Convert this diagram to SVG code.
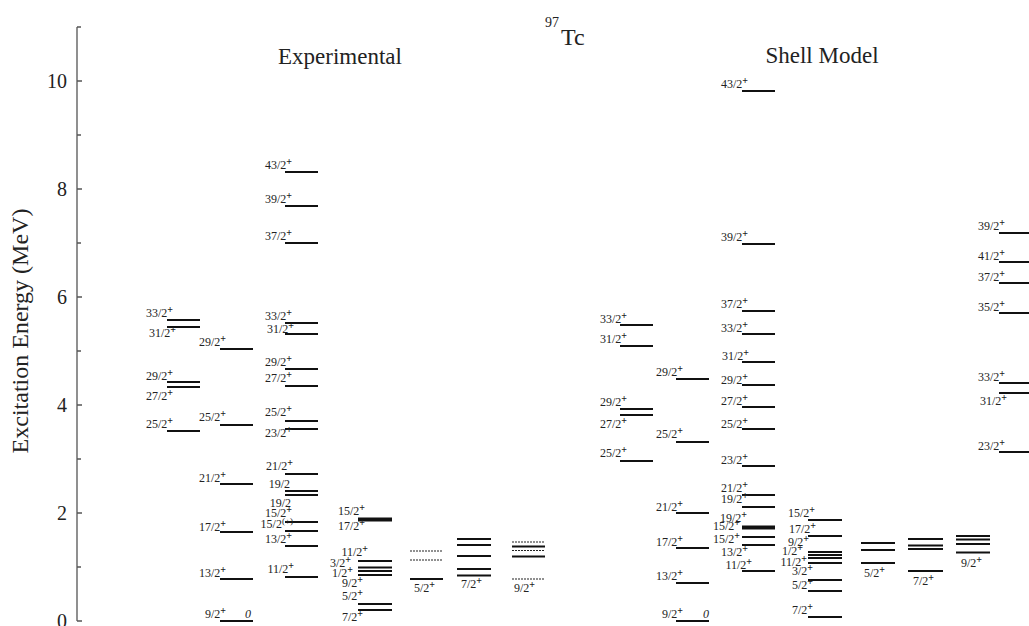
<svg xmlns="http://www.w3.org/2000/svg" width="1029" height="626" viewBox="0 0 1029 626">
<style>
.lv{stroke:#111;stroke-width:2;fill:none}
.dt{stroke:#222;stroke-width:1.2;stroke-dasharray:2 1;fill:none}
.ax{stroke:#555;stroke-width:1.3;fill:none}
text{font-family:"Liberation Serif","Times New Roman",serif;fill:#222}
.lb{font-size:12px;text-anchor:end}
.ls{font-size:12px;text-anchor:start}
.sp{font-size:10px;font-weight:bold}
.tk{font-size:20px;text-anchor:end}
.hd{font-size:23px;text-anchor:middle}
.zr{font-size:12px;font-style:italic;text-anchor:middle}
</style>
<rect width="1029" height="626" fill="#fff"/>

<g id="axis">
<path class="ax" d="M77,27V621 M77,27h4 M77,81h5 M77,135h4 M77,189h5 M77,243h4 M77,297h5 M77,351h4 M77,405h5 M77,459h4 M77,513h5 M77,567h4 M77,621h5"/>
<text class="tk" x="67" y="88">10</text>
<text class="tk" x="67" y="196">8</text>
<text class="tk" x="67" y="304">6</text>
<text class="tk" x="67" y="412">4</text>
<text class="tk" x="67" y="520">2</text>
<text class="tk" x="67" y="628">0</text>
<text font-size="24" text-anchor="middle" transform="translate(28,331) rotate(-90)">Excitation Energy (MeV)</text>
</g>

<g id="titles">
<text x="545" y="27" font-size="14">97</text>
<text x="561" y="45" font-size="24">Tc</text>
<text class="hd" x="340" y="64">Experimental</text>
<text class="hd" x="822" y="63">Shell Model</text>
</g>

<g id="exp-c1">
<path class="lv" d="M167,320h33 M167,327h33 M167,382h33 M167,387h33 M167,431h33"/>
<text class="lb" x="173" y="317">33/2<tspan class="sp" dy="-4">+</tspan></text>
<text class="lb" x="176" y="337">31/2<tspan class="sp" dy="-4">+</tspan></text>
<text class="lb" x="173" y="380">29/2<tspan class="sp" dy="-4">+</tspan></text>
<text class="lb" x="173" y="400">27/2<tspan class="sp" dy="-4">+</tspan></text>
<text class="lb" x="173" y="428">25/2<tspan class="sp" dy="-4">+</tspan></text>
</g>

<g id="exp-c2">
<path class="lv" d="M220,349h33 M220,425h33 M220,484h33 M220,532h33 M220,579h33 M220,621h33"/>
<text class="lb" x="226" y="346">29/2<tspan class="sp" dy="-4">+</tspan></text>
<text class="lb" x="226" y="421">25/2<tspan class="sp" dy="-4">+</tspan></text>
<text class="lb" x="226" y="482">21/2<tspan class="sp" dy="-4">+</tspan></text>
<text class="lb" x="226" y="531">17/2<tspan class="sp" dy="-4">+</tspan></text>
<text class="lb" x="226" y="577">13/2<tspan class="sp" dy="-4">+</tspan></text>
<text class="lb" x="226" y="618">9/2<tspan class="sp" dy="-4">+</tspan></text>
<text class="zr" x="248" y="618">0</text>
</g>

<g id="exp-c3">
<path class="lv" d="M285,172h33 M285,206h33 M285,243h33 M285,323h33 M285,334h33 M285,369h33 M285,386h33 M285,421h33 M285,429h33 M285,474h33 M285,491h33 M285,495h33 M285,522h33 M285,531h33 M285,546h33 M285,577h33"/>
<text class="lb" x="292" y="169">43/2<tspan class="sp" dy="-4">+</tspan></text>
<text class="lb" x="292" y="203">39/2<tspan class="sp" dy="-4">+</tspan></text>
<text class="lb" x="292" y="240">37/2<tspan class="sp" dy="-4">+</tspan></text>
<text class="lb" x="292" y="320">33/2<tspan class="sp" dy="-4">+</tspan></text>
<text class="lb" x="294" y="333">31/2<tspan class="sp" dy="-4">+</tspan></text>
<text class="lb" x="292" y="366">29/2<tspan class="sp" dy="-4">+</tspan></text>
<text class="lb" x="292" y="382">27/2<tspan class="sp" dy="-4">+</tspan></text>
<text class="lb" x="292" y="416">25/2<tspan class="sp" dy="-4">+</tspan></text>
<text class="lb" x="292" y="437">23/2<tspan class="sp" dy="-4">+</tspan></text>
<text class="lb" x="293" y="470">21/2<tspan class="sp" dy="-4">+</tspan></text>
<text class="lb" x="290" y="488">19/2</text>
<text class="lb" x="291" y="507">19/2</text>
<text class="lb" x="292" y="517">15/2<tspan class="sp" dy="-4">+</tspan></text>
<text class="lb" x="293" y="528">15/2<tspan font-size="9" dy="-4">(+)</tspan></text>
<text class="lb" x="292" y="543">13/2<tspan class="sp" dy="-4">+</tspan></text>
<text class="lb" x="294" y="573">11/2<tspan class="sp" dy="-4">+</tspan></text>
</g>

<g id="exp-c4">
<path class="lv" d="M358,518.5h34 M358,520.5h34 M358,561h34 M358,567.5h34 M358,571h34 M358,575h34 M358,604h34 M358,610h34"/>
<text class="lb" x="365" y="515">15/2<tspan class="sp" dy="-4">+</tspan></text>
<text class="lb" x="365" y="530">17/2<tspan class="sp" dy="-4">+</tspan></text>
<text class="lb" x="368" y="556">11/2<tspan class="sp" dy="-4">+</tspan></text>
<text class="lb" x="351" y="567">3/2<tspan class="sp" dy="-4">+</tspan></text>
<text class="lb" x="353" y="577">1/2<tspan class="sp" dy="-4">+</tspan></text>
<text class="lb" x="363" y="587">9/2<tspan class="sp" dy="-4">+</tspan></text>
<text class="lb" x="363" y="600">5/2<tspan class="sp" dy="-4">+</tspan></text>
<text class="lb" x="363" y="621">7/2<tspan class="sp" dy="-4">+</tspan></text>
</g>

<g id="exp-c5">
<path class="dt" d="M410,551h33 M410,560h33"/>
<path class="lv" d="M410,579h33"/>
<text class="ls" x="414" y="592">5/2<tspan class="sp" dy="-4">+</tspan></text>
</g>

<g id="exp-c6">
<path class="lv" d="M457,539h34 M457,545h34 M457,556h34 M457,569h34 M457,575.5h34"/>
<text class="ls" x="461" y="588">7/2<tspan class="sp" dy="-4">+</tspan></text>
</g>

<g id="exp-c7">
<path class="dt" d="M512,542h33 M512,550.5h33 M512,579h33"/>
<path class="lv" d="M512,546.5h33 M512,556.5h33"/>
<text class="ls" x="514" y="592">9/2<tspan class="sp" dy="-4">+</tspan></text>
</g>

<g id="sm-c1">
<path class="lv" d="M620,325h33 M620,346h33 M620,409h33 M620,415h33 M620,461h33"/>
<text class="lb" x="627" y="323">33/2<tspan class="sp" dy="-4">+</tspan></text>
<text class="lb" x="627" y="343">31/2<tspan class="sp" dy="-4">+</tspan></text>
<text class="lb" x="627" y="406">29/2<tspan class="sp" dy="-4">+</tspan></text>
<text class="lb" x="627" y="428">27/2<tspan class="sp" dy="-4">+</tspan></text>
<text class="lb" x="627" y="457">25/2<tspan class="sp" dy="-4">+</tspan></text>
</g>

<g id="sm-c2">
<path class="lv" d="M676,379h33 M676,442h33 M676,513h33 M676,548h33 M676,583h33 M676,621h33"/>
<text class="lb" x="683" y="376">29/2<tspan class="sp" dy="-4">+</tspan></text>
<text class="lb" x="683" y="438">25/2<tspan class="sp" dy="-4">+</tspan></text>
<text class="lb" x="683" y="511">21/2<tspan class="sp" dy="-4">+</tspan></text>
<text class="lb" x="683" y="546">17/2<tspan class="sp" dy="-4">+</tspan></text>
<text class="lb" x="683" y="580">13/2<tspan class="sp" dy="-4">+</tspan></text>
<text class="lb" x="683" y="618">9/2<tspan class="sp" dy="-4">+</tspan></text>
<text class="zr" x="706" y="618">0</text>
</g>

<g id="sm-c3">
<path class="lv" d="M742,91h33 M742,244h33 M742,311h33 M742,334h33 M742,362h33 M742,385h33 M742,407h33 M742,429h33 M742,466h33 M742,495h33 M742,507h33 M742,526.5h33 M742,528.5h33 M742,537h33 M742,545h33 M742,571h33"/>
<text class="lb" x="748" y="88">43/2<tspan class="sp" dy="-4">+</tspan></text>
<text class="lb" x="748" y="241">39/2<tspan class="sp" dy="-4">+</tspan></text>
<text class="lb" x="748" y="308">37/2<tspan class="sp" dy="-4">+</tspan></text>
<text class="lb" x="748" y="332">33/2<tspan class="sp" dy="-4">+</tspan></text>
<text class="lb" x="749" y="360">31/2<tspan class="sp" dy="-4">+</tspan></text>
<text class="lb" x="748" y="384">29/2<tspan class="sp" dy="-4">+</tspan></text>
<text class="lb" x="748" y="405">27/2<tspan class="sp" dy="-4">+</tspan></text>
<text class="lb" x="748" y="428">25/2<tspan class="sp" dy="-4">+</tspan></text>
<text class="lb" x="748" y="464">23/2<tspan class="sp" dy="-4">+</tspan></text>
<text class="lb" x="748" y="492">21/2<tspan class="sp" dy="-4">+</tspan></text>
<text class="lb" x="748" y="503">19/2<tspan class="sp" dy="-4">+</tspan></text>
<text class="lb" x="747" y="522">19/2<tspan class="sp" dy="-4">+</tspan></text>
<text class="lb" x="740" y="530">15/2<tspan class="sp" dy="-4">+</tspan></text>
<text class="lb" x="740" y="543">15/2<tspan class="sp" dy="-4">+</tspan></text>
<text class="lb" x="748" y="556">13/2<tspan class="sp" dy="-4">+</tspan></text>
<text class="lb" x="752" y="569">11/2<tspan class="sp" dy="-4">+</tspan></text>
</g>

<g id="sm-c4">
<path class="lv" d="M808,520h34 M808,536h34 M808,552h34 M808,555h34 M808,558h34 M808,563h34 M808,580h34 M808,591h34 M808,617h34"/>
<text class="lb" x="815" y="517">15/2<tspan class="sp" dy="-4">+</tspan></text>
<text class="lb" x="816" y="533">17/2<tspan class="sp" dy="-4">+</tspan></text>
<text class="lb" x="809" y="546">9/2<tspan class="sp" dy="-4">+</tspan></text>
<text class="lb" x="803" y="555">1/2<tspan class="sp" dy="-4">+</tspan></text>
<text class="lb" x="807" y="566">11/2<tspan class="sp" dy="-4">+</tspan></text>
<text class="lb" x="813" y="575">3/2<tspan class="sp" dy="-4">+</tspan></text>
<text class="lb" x="813" y="589">5/2<tspan class="sp" dy="-4">+</tspan></text>
<text class="lb" x="813" y="614">7/2<tspan class="sp" dy="-4">+</tspan></text>
</g>

<g id="sm-c5">
<path class="lv" d="M861,543h34 M861,550h34 M861,563h34"/>
<text class="ls" x="864" y="577">5/2<tspan class="sp" dy="-4">+</tspan></text>
</g>

<g id="sm-c6">
<path class="lv" d="M908,539h35 M908,545.5h35 M908,549h35 M908,571h35"/>
<text class="ls" x="913" y="585">7/2<tspan class="sp" dy="-4">+</tspan></text>
</g>

<g id="sm-c7">
<path class="lv" d="M956,536h34 M956,539.5h34 M956,544h34 M956,552.5h34"/>
<text class="ls" x="961" y="567">9/2<tspan class="sp" dy="-4">+</tspan></text>
</g>

<g id="sm-c8">
<path class="lv" d="M999,233h30 M999,262h30 M999,283h30 M999,313h30 M999,383h30 M999,393h30 M999,452h30"/>
<text class="lb" x="1005" y="230">39/2<tspan class="sp" dy="-4">+</tspan></text>
<text class="lb" x="1005" y="260">41/2<tspan class="sp" dy="-4">+</tspan></text>
<text class="lb" x="1005" y="281">37/2<tspan class="sp" dy="-4">+</tspan></text>
<text class="lb" x="1005" y="311">35/2<tspan class="sp" dy="-4">+</tspan></text>
<text class="lb" x="1005" y="381">33/2<tspan class="sp" dy="-4">+</tspan></text>
<text class="lb" x="1007" y="405">31/2<tspan class="sp" dy="-4">+</tspan></text>
<text class="lb" x="1005" y="450">23/2<tspan class="sp" dy="-4">+</tspan></text>
</g>
</svg>
